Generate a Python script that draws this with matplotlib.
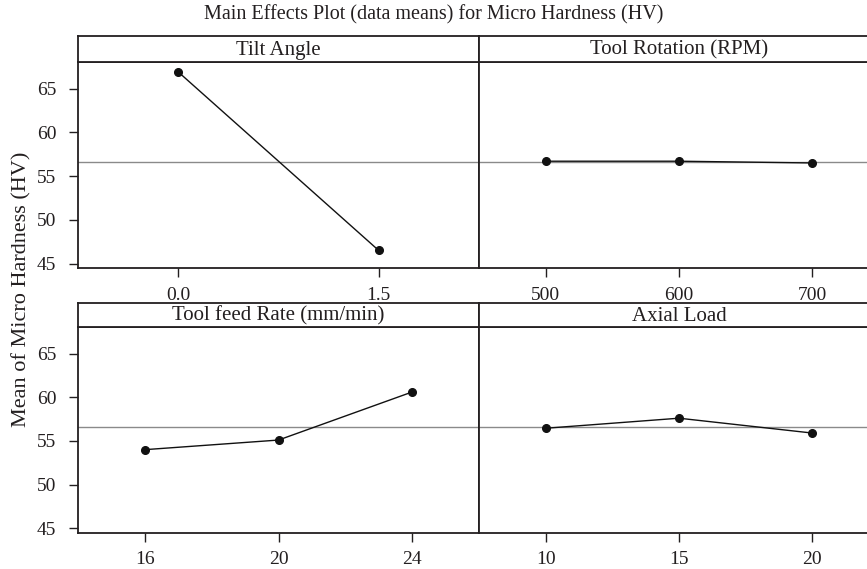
import matplotlib
matplotlib.use("Agg")
import matplotlib.pyplot as plt

# ---- data ----
overall_mean = 56.63
tilt_levels = ["0.0", "1.5"]
tilt_means = [66.9, 46.5]
rpm_levels = ["500", "600", "700"]
rpm_means = [56.7, 56.7, 56.5]
feed_levels = ["16", "20", "24"]
feed_means = [54.0, 55.1, 60.6]
load_levels = ["10", "15", "20"]
load_means = [56.45, 57.6, 55.9]
y_ticks = [45, 50, 55, 60, 65]

panels = [
    ("Tilt Angle", tilt_levels, tilt_means),
    ("Tool Rotation (RPM)", rpm_levels, rpm_means),
    ("Tool feed Rate (mm/min)", feed_levels, feed_means),
    ("Axial Load", load_levels, load_means),
]

W, H = 867, 569
fig = plt.figure(figsize=(W / 100, H / 100), dpi=100)
plt.rcParams['font.family'] = ['Liberation Serif', 'DejaVu Serif']
TXT = '#231f20'
plt.rcParams['text.color'] = TXT


def rect(x0, y0, x1, y1):
    return [x0 / W, 1 - y1 / H, (x1 - x0) / W, (y1 - y0) / H]


cols = [(78, 479), (479, 879)]
rows = [(35.7, 62.3, 268.0), (302.7, 327.3, 532.7)]

for i, (name, levels, means) in enumerate(panels):
    r, c = divmod(i, 2)
    x0, x1 = cols[c]
    ys, yd, yb = rows[r]
    ax = fig.add_axes(rect(x0, yd, x1, yb))
    sax = fig.add_axes(rect(x0, ys, x1, yd))
    n = len(levels)
    xs = list(range(n))
    ax.axhline(overall_mean, color='#8a8a8a', lw=1.0, zorder=1)
    ax.plot(xs, means, color='#111111', lw=1.0, marker='o', ms=5.5,
            mfc='#111111', mec='#111111', zorder=3)
    ax.set_xlim(-0.5, n - 0.5)
    ax.set_ylim(44.5, 68.0)
    ax.set_xticks(xs)
    ax.set_xticklabels(levels, fontsize=14, color=TXT)
    ax.tick_params(axis='x', direction='out', length=6.5, width=1.0,
                   pad=7, color=TXT)
    if c == 0:
        ax.set_yticks(y_ticks)
        ax.set_yticklabels([str(v) for v in y_ticks], fontsize=14, color=TXT)
        ax.tick_params(axis='y', direction='out', length=6.5, width=1.0,
                       pad=9, color=TXT)
    else:
        ax.set_yticks([])
    for sp in ax.spines.values():
        sp.set_color(TXT)
        sp.set_linewidth(1.3)
    sax.set_xticks([])
    sax.set_yticks([])
    for sp in sax.spines.values():
        sp.set_color(TXT)
        sp.set_linewidth(1.3)
    sax.text(0.5, 0.45, name, ha='center', va='center', fontsize=15,
             color=TXT, transform=sax.transAxes)

fig.text(0.5, 1 - 15 / H, "Main Effects Plot (data means) for Micro Hardness (HV)",
         ha='center', va='center', fontsize=14.5, color=TXT)
fig.text(22 / W, 1 - 289 / H, "Mean of Micro Hardness (HV)", rotation=90,
         ha='center', va='center', fontsize=16, color=TXT)

fig.savefig("out.png", dpi=100)
